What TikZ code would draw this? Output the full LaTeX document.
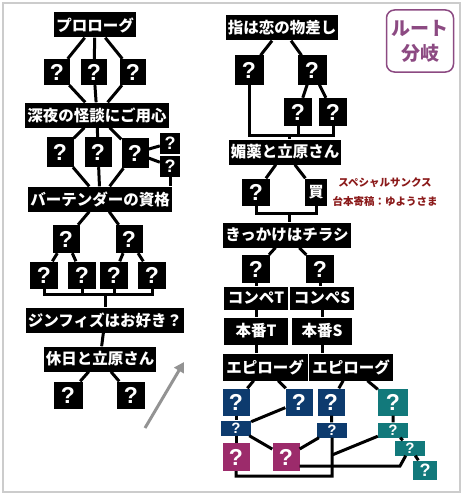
\documentclass[tikz,border=0pt]{standalone}
\usepackage{fontspec}
\usepackage{tikz}
\usetikzlibrary{calc,arrows.meta}
\newfontfamily\jp{Noto Sans CJK JP}
\newfontfamily\qfont{Liberation Sans}
\definecolor{epblue}{HTML}{0D3B6E}
\definecolor{epteal}{HTML}{12797B}
\definecolor{eppink}{HTML}{9C2B6B}
\definecolor{routepurple}{HTML}{8C4A82}
\definecolor{thanksred}{HTML}{8B1A1A}
\tikzset{
  lbl/.style={fill=black,text=white,font=\jp\bfseries\fontsize{15.5}{16}\selectfont,
    inner xsep=2pt,inner ysep=0pt,minimum height=25pt},
  qbox/.style={fill=black,text=white,font=\qfont\bfseries\fontsize{23}{23}\selectfont,
    inner sep=0pt,minimum width=27pt,minimum height=27pt},
  qsmall/.style={qbox,font=\qfont\bfseries\fontsize{15}{15}\selectfont,
    minimum width=30pt,minimum height=15pt},
  link/.style={line width=3pt}
}
\def\qnode{\node[qbox]}
\def\smallnode{\node[qsmall]}
\def\lblnode{\node[lbl]}

\begin{document}
\begin{tikzpicture}[x=1pt,y=-1pt]
\useasboundingbox (0,0) rectangle (464,495);
\draw[gray!40,line width=1.2pt] (3,3) rectangle (460,492);

\lblnode (pro) at (95,25) {プロローグ};
\qnode[minimum width=26pt,minimum height=26pt] (pa) at (57,72) {?};
\qnode[minimum width=26pt,minimum height=26pt] (pb) at (94,72) {?};
\qnode[minimum width=26pt,minimum height=26pt] (pc) at (133,72) {?};
\lblnode (shinya) at (97,115) {深夜の怪談にご用心};
\qnode[minimum height=30pt] (qa) at (60,152) {?};
\qnode[minimum height=30pt] (qb) at (98,152) {?};
\qnode[minimum height=30pt] (qc) at (135,153) {?};
\qnode[minimum width=20pt,minimum height=21pt,font=\qfont\bfseries\fontsize{18}{18}\selectfont] (sa) at (170,143) {?};
\qnode[minimum width=20pt,minimum height=21pt,font=\qfont\bfseries\fontsize{18}{18}\selectfont] (sb) at (170,166) {?};
\lblnode (bar) at (100,199) {バーテンダーの資格};
\qnode[minimum height=28pt] (ra) at (66,239) {?};
\qnode[minimum height=28pt] (rb) at (129,239) {?};
\qnode[minimum width=28pt] (rc) at (44,275) {?};
\qnode[minimum width=28pt] (rd) at (82,275) {?};
\qnode[minimum width=28pt] (re) at (114,275) {?};
\qnode[minimum width=28pt] (rf) at (152,275) {?};
\coordinate (j1) at (105,294);
\lblnode (jin) at (105,320) {ジンフィズはお好き？};
\lblnode (kyu) at (100,359) {休日と立原さん};
\qnode[minimum width=29pt] (ua) at (68,395) {?};
\qnode[minimum width=28pt] (ub) at (131,395) {?};

\draw[link] (pro) -- (pa) -- (shinya);
\draw[link] (pro) -- (pb) -- (shinya);
\draw[link] (pro) -- (pc) -- (shinya);
\draw[link] (shinya) -- (qa) -- (bar);
\draw[link] (shinya) -- (qb) -- (bar);
\draw[link] (shinya) -- (qc) -- (bar);
\draw[link] (sa) -- (qc);
\draw[link] (sb) -- (qc);
\draw[link] (sb) -- (sb |- bar.north);
\draw[link] (bar) -- (ra);
\draw[link] (bar) -- (rb);
\draw[link] (ra) -- (rc);
\draw[link] (ra) -- (rd);
\draw[link] (rb) -- (re);
\draw[link] (rb) -- (rf);
\draw[link] (rc) |- (j1);
\draw[link] (rf) |- (j1);
\draw[link] (rd) -- (rd |- j1);
\draw[link] (re) -- (re |- j1);
\draw[link] (j1) -- (jin);
\draw[link] (jin) -- (kyu);
\draw[link] (kyu) -- (ua);
\draw[link] (kyu) -- (ub);

\coordinate (tail) at (145,428);
\coordinate (tip) at (184,362);
\draw[line width=3pt,gray!85,-{Triangle[length=10pt,width=11pt]}] (tail) -- (tip);

\lblnode (yubi) at (282,28) {指は恋の物差し};
\qnode[minimum width=29pt,minimum height=29pt] (va) at (249,70) {?};
\qnode[minimum width=29pt,minimum height=29pt] (vb) at (312,70) {?};
\qnode[minimum width=28pt,minimum height=28pt] (vc) at (298,112) {?};
\qnode[minimum width=28pt,minimum height=28pt] (vd) at (333,112) {?};
\coordinate (k1) at (289,135);
\lblnode (biyaku) at (285,152) {媚薬と立原さん};
\qnode[minimum width=28pt] (wa) at (256,192) {?};
\qnode[minimum width=22pt,font=\jp\bfseries\fontsize{15}{15}\selectfont] (wb) at (316,192) {買};
\coordinate (k2) at (289,213);
\lblnode (kikkake) at (287,235) {きっかけはチラシ};
\qnode[minimum width=28pt,minimum height=28pt] (xa) at (256,269) {?};
\qnode[minimum width=28pt,minimum height=28pt] (xb) at (320,269) {?};
\lblnode[minimum width=64pt,minimum height=23pt] (konT) at (256,298) {コンペT};
\lblnode[minimum width=64pt,minimum height=23pt] (konS) at (322,298) {コンペS};
\lblnode[minimum width=64pt,minimum height=27pt] (honT) at (256,331) {本番T};
\lblnode[minimum width=60pt,minimum height=27pt] (honS) at (322,331) {本番S};
\lblnode[minimum width=85pt,minimum height=27pt] (epiL) at (265,367) {エピローグ};
\lblnode[minimum width=84pt,minimum height=27pt] (epiR) at (351,367) {エピローグ};

\draw[link] (yubi) -- (va);
\draw[link] (yubi) -- (vb);
\draw[link] (vb) -- (vc);
\draw[link] (vb) -- (vd);
\draw[link] (va) |- (k1);
\draw[link] (vd) |- (k1);
\draw[link] (vc) -- (vc |- k1);
\draw[link] (k1) -- (k1 |- biyaku.north);
\draw[link] (biyaku) -- (wa);
\draw[link] (biyaku) -- (wb);
\draw[link] (wa) |- (k2);
\draw[link] (wb) |- (k2);
\draw[link] (k2) -- (k2 |- kikkake.north);
\draw[link] (kikkake) -- (xa);
\draw[link] (kikkake) -- (xb);
\draw[link] (xa) -- (konT) -- (honT);
\draw[link] (xb) -- (xb |- konS.north);
\draw[link] (konS) -- (honS);
\draw[link] (honT) -- (honT |- epiL.north);
\draw[link] (honS) -- (honS |- epiR.north);

\node[text=thanksred,font=\jp\bfseries\fontsize{10.5}{19}\selectfont,align=center] (thanks) at (385,192) {スペシャルサンクス\\台本寄稿：ゆようさま};
\node[draw=routepurple,line width=1.5pt,rounded corners=8pt,fill=white,text=routepurple,
  font=\jp\bfseries\fontsize{19}{25}\selectfont,align=center,inner sep=0pt,
  minimum width=67pt,minimum height=62pt] (route) at (420,41) {ルート\\分岐};

\qnode[fill=epblue] (b1) at (236,402) {?};
\qnode[fill=epblue] (b2) at (299,402) {?};
\qnode[fill=epblue] (b3) at (331,402) {?};
\qnode[fill=epteal,minimum width=30pt] (t1) at (393,402) {?};
\smallnode[fill=epblue] (b4) at (236,428) {?};
\smallnode[fill=epblue] (b5) at (332,430) {?};
\smallnode[fill=epteal] (t2) at (393,430) {?};
\smallnode[fill=epteal] (t3) at (410,448) {?};
\qnode[fill=epteal,minimum width=24pt,minimum height=19pt,font=\qfont\bfseries\fontsize{18}{18}\selectfont] (t4) at (425,470) {?};
\qnode[fill=eppink,minimum height=28pt] (m1) at (236,457) {?};
\qnode[fill=eppink,minimum height=28pt] (m2) at (286,457) {?};
\coordinate (c1) at (332,476);
\coordinate (c2) at (332,455);
\coordinate (c3) at (400,466);

\draw[link] (epiL) -- (b1);
\draw[link] (epiL) -- (b2);
\draw[link] (epiR) -- (b3);
\draw[link] (epiR) -- (t1);
\draw[link] (b1) -- (b4) -- (m1);
\draw[link] (b2) -- (b4);
\draw[link] (b4) -- (m2);
\draw[link] (m2) -- (b5);
\draw[link] (b3) -- (b5) -- (c1) -| (m1);
\draw[link] (t1) -- (t2) -- (t3) -- (t4);
\draw[link] (t2) -- (c2);
\draw[link] (t3) -- (c3) -- (c3 -| m2.east);
\end{tikzpicture}
\end{document}
